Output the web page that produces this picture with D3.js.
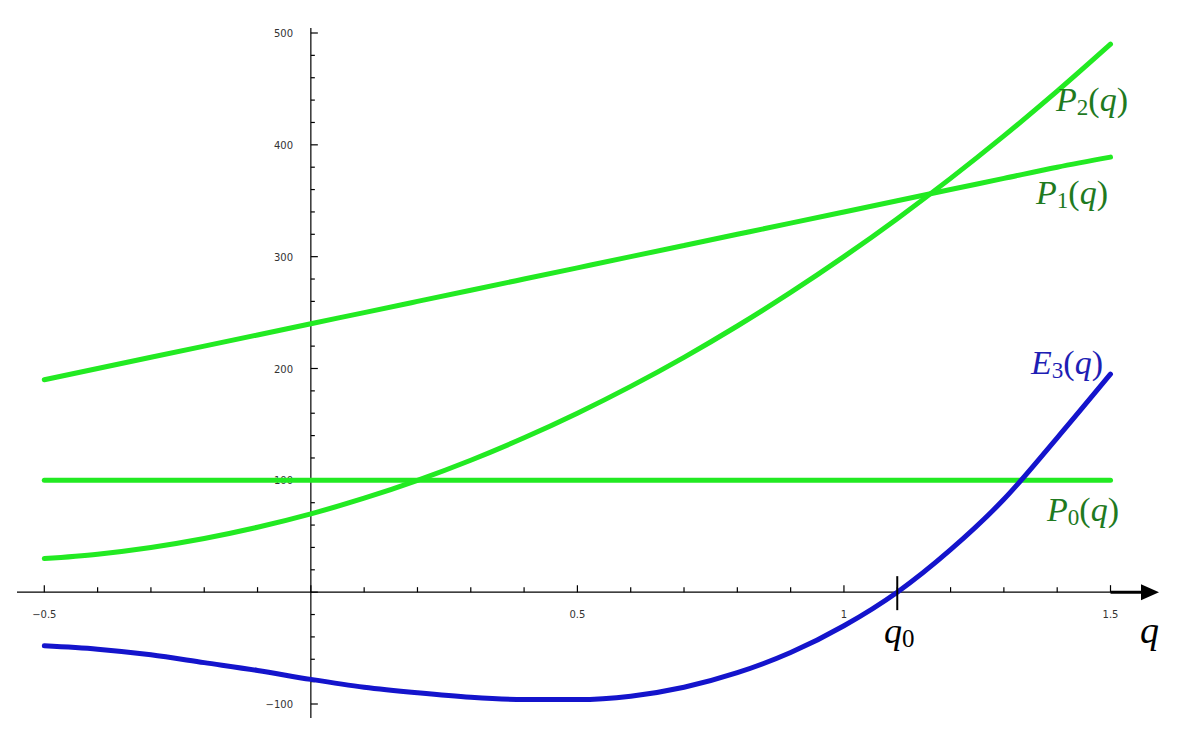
<!DOCTYPE html>
<html><head><meta charset="utf-8">
<script src="https://cdn.jsdelivr.net/npm/d3@7"></script>
<style>body{margin:0;background:#fff}svg{display:block}</style>
</head><body>
<svg id="c" width="1185" height="730"></svg>
<script>
// ---- data ----
const qValues = [-0.5,-0.4,-0.3,-0.2,-0.1,0,0.1,0.2,0.3,0.4,0.5,0.6,0.7,0.8,0.9,1.0,1.1,1.2,1.3,1.4,1.5];
const P0 = [100,100,100,100,100,100,100,100,100,100,100,100,100,100,100,100,100,100,100,100,100];
const P1 = [190,200,210,220,230,240,250,260,270,280,290,300,310,320,330,340,350,360,370,380,389];
const P2 = [30,34,40,48,58,70,84,100,118,138,160,184,210,238,268,300,334,370,408,448,490];
const E3 = [-48,-51,-56,-63,-70,-78,-85,-90,-94,-96,-96,-93,-85,-72,-54,-30,0,38,83,138,195];
const xTickLabels = [-0.5,0.5,1,1.5];
const yTickLabels = [-100,100,200,300,400,500];
const q0 = 1.1;

const svg = d3.select("#c");
const x = d3.scaleLinear().domain([-0.5,1.5]).range([44.3,1110.5]);
const y = d3.scaleLinear().domain([-100,500]).range([704,33]);
const fmt = v => String(v).replace("-", "\u2212");

// tick labels (drawn first, the P0 line covers "100")
svg.append("g").selectAll("text").data(xTickLabels).join("text")
  .attr("x", d => x(d)).attr("y", 615).attr("text-anchor","middle").attr("dominant-baseline","middle")
  .attr("font-family","DejaVu Sans, Verdana, sans-serif").attr("font-size",10).attr("fill","#333")
  .text(fmt);
svg.append("g").selectAll("text").data(yTickLabels).join("text")
  .attr("x", 293).attr("y", d => y(d)+1).attr("text-anchor","end").attr("dominant-baseline","middle")
  .attr("font-family","DejaVu Sans, Verdana, sans-serif").attr("font-size",10).attr("fill","#333")
  .text(fmt);

// axes
const ax = svg.append("g").attr("stroke","#000").attr("stroke-width",1.2);
ax.append("line").attr("x1",17).attr("x2",1142).attr("y1",y(0)).attr("y2",y(0));
ax.append("line").attr("x1",x(0)).attr("x2",x(0)).attr("y1",28).attr("y2",718);
// x ticks (up)
const xt = d3.range(-5,16).map(i => i/10);
ax.selectAll(".xt").data(xt).join("line")
  .attr("x1", d => x(d)).attr("x2", d => x(d))
  .attr("y1", y(0)).attr("y2", d => y(0) - (Math.abs(d*10 % 5) < 1e-6 ? 7 : 5));
// y ticks (right)
const yt = d3.range(-100,501,20);
ax.selectAll(".yt").data(yt).join("line")
  .attr("y1", d => y(d)).attr("y2", d => y(d))
  .attr("x1", x(0)).attr("x2", d => x(0) + (d % 100 === 0 ? 7 : 4));
// arrow on x axis
svg.append("line").attr("x1",x(1.5)).attr("x2",1145).attr("y1",y(0)).attr("y2",y(0))
  .attr("stroke","#000").attr("stroke-width",3);
svg.append("path").attr("d",`M1141,${y(0)-8} L1159,${y(0)} L1141,${y(0)+8} Z`).attr("fill","#000");

// curves
const line = vals => d3.line().x((d,i)=>x(qValues[i])).y(d=>y(d)).curve(d3.curveMonotoneX)(vals);
const green = "#22ea22", blue = "#1414cc";
[[P0,green],[P1,green],[P2,green],[E3,blue]].forEach(([vals,col]) => {
  svg.append("path").attr("d", line(vals)).attr("fill","none").attr("stroke",col)
    .attr("stroke-width",5).attr("stroke-linecap","round").attr("stroke-linejoin","round");
});

// q0 marker
svg.append("line").attr("x1",x(q0)).attr("x2",x(q0)).attr("y1",y(0)-16).attr("y2",y(0)+18)
  .attr("stroke","#000").attr("stroke-width",2);

// labels
function lab(px, py, main, sub, col, size) {
  const t = svg.append("text").attr("x",px).attr("y",py)
    .attr("font-family","Liberation Serif, Times New Roman, serif").attr("font-size",size).attr("fill",col);
  t.append("tspan").attr("font-style","italic").text(main);
  t.append("tspan").attr("font-size",size*0.68).attr("dy",size*0.12).text(sub);
  t.append("tspan").attr("dy",-size*0.12).text("(");
  t.append("tspan").attr("font-style","italic").text("q");
  t.append("tspan").text(")");
}
const dg = "#1f7a1f", db = "#1e1eb4";
lab(1056, 111, "P", "2", dg, 34);
lab(1036, 204, "P", "1", dg, 34);
lab(1031, 374, "E", "3", db, 34);
lab(1047, 521, "P", "0", dg, 34);

const q0t = svg.append("text").attr("x",884).attr("y",643)
  .attr("font-family","Liberation Serif, Times New Roman, serif").attr("font-size",36).attr("fill","#000");
q0t.append("tspan").attr("font-style","italic").text("q");
q0t.append("tspan").attr("font-size",25).attr("dy",4).text("0");
svg.append("text").attr("x",1140).attr("y",643).attr("font-family","Liberation Serif, Times New Roman, serif")
  .attr("font-size",38).attr("font-style","italic").attr("fill","#000").text("q");
</script>
</body></html>
